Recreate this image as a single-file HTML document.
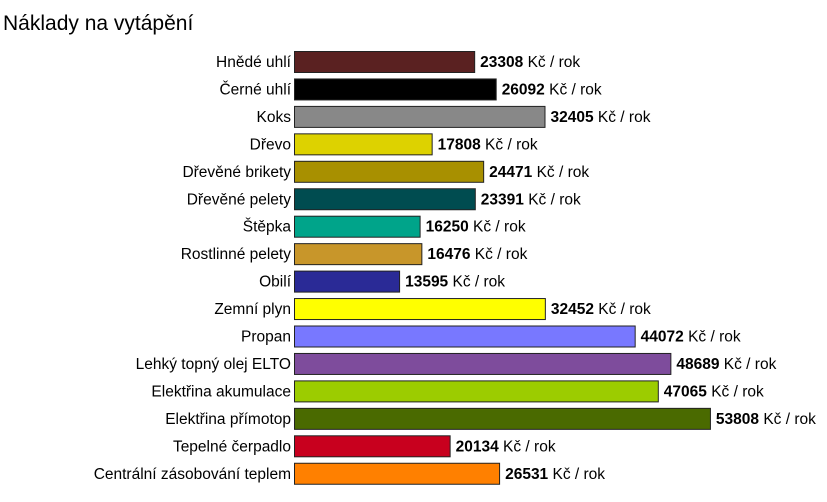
<!DOCTYPE html>
<html><head><meta charset="utf-8"><style>
body{margin:0;background:#fff;width:827px;height:497px;overflow:hidden;font-family:"Liberation Sans",sans-serif}
</style></head><body>
<svg id="chart" width="827" height="497" xmlns="http://www.w3.org/2000/svg">
<text x="3" y="30" font-size="21" fill="#000" font-family="Liberation Sans, sans-serif">Náklady na vytápění</text>
<g id="bars"></g>
</svg>
<script>
const categories=["Hnědé uhlí","Černé uhlí","Koks","Dřevo","Dřevěné brikety","Dřevěné pelety","Štěpka","Rostlinné pelety","Obilí","Zemní plyn","Propan","Lehký topný olej ELTO","Elektřina akumulace","Elektřina přímotop","Tepelné čerpadlo","Centrální zásobování teplem"];
const values=[23308,26092,32405,17808,24471,23391,16250,16476,13595,32452,44072,48689,47065,53808,20134,26531];
const colors=["#5a2121","#000000","#888888","#ddd200","#a89000","#004c50","#00a48a","#c8962a","#2a2a96","#ffff00","#7878ff","#7e4c9c","#9ccc00","#4a6a00","#c8001e","#ff8000"];
const unit=" Kč / rok";
const x0=294, k=0.00773, y0=51, step=27.45, bh=21;
const xs=v=>x0+v*k;
const ys=i=>y0+i*step;
const g=document.getElementById('bars');
const NS="http://www.w3.org/2000/svg";
categories.forEach((c,i)=>{
  const y=ys(i);
  const lab=document.createElementNS(NS,'text');
  
  
  lab.setAttribute('x',x0-3);lab.setAttribute('y',y+bh/2+5.5);
  lab.setAttribute('text-anchor','end');lab.setAttribute('font-size','15.5');
  lab.textContent=c;g.appendChild(lab);
  const r=document.createElementNS(NS,'rect');
  
  
  r.setAttribute('x',x0+0.5);r.setAttribute('y',y+0.5);
  r.setAttribute('width',xs(values[i])-x0);r.setAttribute('height',bh);
  r.setAttribute('fill',colors[i]);r.setAttribute('stroke','#222');r.setAttribute('stroke-width','1');
  g.appendChild(r);
  const t=document.createElementNS(NS,'text');
  
  
  t.setAttribute('x',xs(values[i])+6);t.setAttribute('y',y+bh/2+5.5);
  t.setAttribute('font-size','15.5');
  const b=document.createElementNS(NS,'tspan');b.setAttribute('font-weight','bold');b.textContent=values[i];
  t.appendChild(b);t.appendChild(document.createTextNode(unit));
  g.appendChild(t);
});
</script>
</body></html>
